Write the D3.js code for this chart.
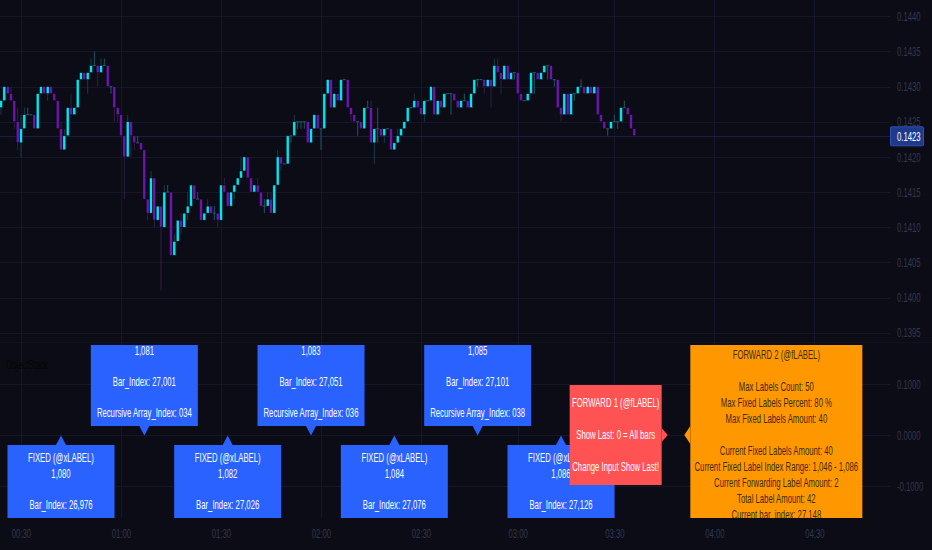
<!DOCTYPE html>
<html><head><meta charset="utf-8">
<script src="https://cdn.jsdelivr.net/npm/d3@7/dist/d3.min.js"></script>
<style>
html,body{margin:0;padding:0;background:#0c0c17;}
svg{display:block;}
text{font-family:"Liberation Sans",Arial,sans-serif;}
</style></head><body>
<svg id="chart" width="932" height="550"></svg>
<script>
// ---------------- DATA ----------------
const firstBar = 26958; // bar_index of first visible candle
const open = [
0.1427,0.1428,0.1430,0.1429,0.1428,0.1425,0.1422,0.1424,0.1426,0.1426,0.1426,0.1424,0.1429,0.1430,0.1429,0.1430,0.1429,0.1428,0.1424,0.1421,
0.1423,0.1427,0.1426,0.1427,0.1431,0.1432,0.1431,0.1432,0.1433,0.1433,0.1432,0.1433,0.1433,0.1430,0.1430,0.1427,0.1426,0.1423,0.1420,0.1425,
0.1423,0.1422,0.1422,0.1421,0.1414,0.1412,0.1417,0.1411,0.1413,0.1410,0.1415,0.1415,0.1406,0.1408,0.1411,0.1410,0.1412,0.1413,0.1416,0.1414,
0.1414,0.1411,0.1412,0.1413,0.1412,0.1412,0.1411,0.1416,0.1415,0.1413,0.1415,0.1416,0.1417,0.1418,0.1420,0.1417,0.1415,0.1416,0.1415,0.1413,
0.1413,0.1414,0.1412,0.1416,0.1420,0.1419,0.1419,0.1423,0.1423,0.1425,0.1425,0.1425,0.1425,0.1422,0.1424,0.1426,0.1424,0.1424,0.1429,0.1431,
0.1427,0.1429,0.1428,0.1431,0.1431,0.1427,0.1426,0.1425,0.1425,0.1424,0.1427,0.1427,0.1422,0.1424,0.1424,0.1423,0.1424,0.1424,0.1421,0.1422,
0.1423,0.1424,0.1425,0.1427,0.1427,0.1428,0.1427,0.1426,0.1428,0.1428,0.1430,0.1426,0.1428,0.1427,0.1429,0.1429,0.1429,0.1428,0.1427,0.1428,
0.1428,0.1427,0.1429,0.1431,0.1431,0.1431,0.1430,0.1431,0.1430,0.1433,0.1432,0.1431,0.1433,0.1431,0.1432,0.1432,0.1429,0.1428,0.1428,0.1429,
0.1432,0.1432,0.1431,0.1432,0.1433,0.1433,0.1431,0.1431,0.1427,0.1426,0.1429,0.1426,0.1429,0.1429,0.1430,0.1430,0.1429,0.1430,0.1429,0.1430,
0.1426,0.1425,0.1424,0.1424,0.1425,0.1425,0.1425,0.1427,0.1427,0.1426,0.1424];
const close = [
0.1428,0.1430,0.1429,0.1428,0.1425,0.1422,0.1424,0.1426,0.1426,0.1426,0.1424,0.1429,0.1430,0.1429,0.1430,0.1429,0.1428,0.1424,0.1421,0.1423,
0.1427,0.1426,0.1427,0.1431,0.1432,0.1431,0.1432,0.1433,0.1433,0.1432,0.1433,0.1433,0.1430,0.1430,0.1427,0.1426,0.1423,0.1420,0.1425,0.1423,
0.1422,0.1422,0.1421,0.1414,0.1412,0.1417,0.1411,0.1413,0.1410,0.1415,0.1415,0.1406,0.1408,0.1411,0.1410,0.1412,0.1413,0.1416,0.1414,0.1414,
0.1411,0.1412,0.1413,0.1412,0.1412,0.1411,0.1416,0.1415,0.1413,0.1415,0.1416,0.1417,0.1418,0.1420,0.1417,0.1415,0.1416,0.1415,0.1413,0.1413,
0.1414,0.1412,0.1416,0.1420,0.1419,0.1419,0.1423,0.1423,0.1425,0.1425,0.1425,0.1425,0.1422,0.1424,0.1426,0.1424,0.1424,0.1429,0.1431,0.1427,
0.1429,0.1428,0.1431,0.1431,0.1427,0.1426,0.1425,0.1425,0.1424,0.1427,0.1427,0.1422,0.1424,0.1424,0.1423,0.1424,0.1424,0.1421,0.1422,0.1423,
0.1424,0.1425,0.1427,0.1427,0.1428,0.1427,0.1426,0.1428,0.1428,0.1430,0.1426,0.1428,0.1427,0.1429,0.1429,0.1429,0.1428,0.1427,0.1428,0.1428,
0.1427,0.1429,0.1431,0.1431,0.1431,0.1430,0.1431,0.1430,0.1433,0.1432,0.1431,0.1433,0.1431,0.1432,0.1432,0.1429,0.1428,0.1428,0.1429,0.1432,
0.1432,0.1431,0.1432,0.1433,0.1433,0.1431,0.1431,0.1427,0.1426,0.1429,0.1426,0.1429,0.1429,0.1430,0.1430,0.1429,0.1430,0.1429,0.1430,0.1426,
0.1425,0.1424,0.1424,0.1425,0.1425,0.1425,0.1427,0.1427,0.1426,0.1424,0.1423];
const high = [
0.1428,0.1430,0.1430,0.1430,0.1428,0.1427,0.1426,0.1427,0.1427,0.1426,0.1426,0.1429,0.1430,0.1430,0.1430,0.1430,0.1429,0.1428,0.1425,0.1424,
0.1427,0.1429,0.1427,0.1431,0.1432,0.1432,0.1432,0.1434,0.1435,0.1433,0.1434,0.1434,0.1433,0.1430,0.1430,0.1427,0.1426,0.1423,0.1426,0.1425,
0.1423,0.1423,0.1422,0.1421,0.1414,0.1418,0.1417,0.1413,0.1413,0.1416,0.1416,0.1415,0.1409,0.1411,0.1412,0.1412,0.1415,0.1416,0.1416,0.1415,
0.1414,0.1412,0.1414,0.1413,0.1413,0.1412,0.1416,0.1417,0.1415,0.1415,0.1416,0.1417,0.1420,0.1420,0.1420,0.1417,0.1416,0.1417,0.1415,0.1414,
0.1415,0.1415,0.1416,0.1421,0.1420,0.1419,0.1423,0.1423,0.1426,0.1425,0.1425,0.1425,0.1425,0.1424,0.1426,0.1426,0.1424,0.1429,0.1431,0.1431,
0.1429,0.1429,0.1431,0.1431,0.1431,0.1427,0.1426,0.1425,0.1425,0.1427,0.1428,0.1428,0.1424,0.1427,0.1424,0.1424,0.1424,0.1424,0.1422,0.1424,
0.1424,0.1425,0.1427,0.1427,0.1429,0.1428,0.1427,0.1428,0.1428,0.1430,0.1430,0.1428,0.1428,0.1429,0.1429,0.1429,0.1429,0.1428,0.1428,0.1429,
0.1428,0.1429,0.1431,0.1431,0.1431,0.1431,0.1431,0.1431,0.1434,0.1434,0.1432,0.1433,0.1433,0.1432,0.1432,0.1432,0.1429,0.1428,0.1429,0.1432,
0.1432,0.1432,0.1432,0.1433,0.1433,0.1433,0.1431,0.1431,0.1427,0.1429,0.1429,0.1429,0.1429,0.1430,0.1431,0.1430,0.1430,0.1430,0.1430,0.1430,
0.1426,0.1425,0.1424,0.1425,0.1426,0.1425,0.1427,0.1428,0.1427,0.1426,0.1424];
const low = [
0.1426,0.1428,0.1429,0.1428,0.1424,0.1421,0.1420,0.1424,0.1426,0.1426,0.1424,0.1424,0.1429,0.1429,0.1428,0.1429,0.1428,0.1424,0.1421,0.1421,
0.1423,0.1426,0.1426,0.1427,0.1431,0.1431,0.1429,0.1432,0.1433,0.1430,0.1432,0.1433,0.1430,0.1429,0.1425,0.1425,0.1423,0.1414,0.1420,0.1420,
0.1421,0.1422,0.1421,0.1414,0.1411,0.1412,0.1410,0.1411,0.1401,0.1410,0.1415,0.1406,0.1406,0.1408,0.1409,0.1410,0.1411,0.1413,0.1414,0.1414,
0.1411,0.1411,0.1412,0.1412,0.1411,0.1410,0.1411,0.1415,0.1413,0.1413,0.1414,0.1416,0.1417,0.1418,0.1417,0.1415,0.1415,0.1415,0.1413,0.1412,
0.1413,0.1412,0.1412,0.1416,0.1418,0.1419,0.1419,0.1422,0.1423,0.1424,0.1424,0.1424,0.1422,0.1422,0.1424,0.1424,0.1421,0.1424,0.1429,0.1427,
0.1427,0.1428,0.1428,0.1431,0.1427,0.1425,0.1425,0.1423,0.1424,0.1424,0.1427,0.1422,0.1419,0.1422,0.1423,0.1422,0.1424,0.1421,0.1421,0.1422,
0.1423,0.1424,0.1425,0.1427,0.1427,0.1427,0.1426,0.1425,0.1428,0.1428,0.1426,0.1426,0.1427,0.1427,0.1429,0.1426,0.1428,0.1427,0.1427,0.1428,
0.1427,0.1427,0.1429,0.1430,0.1431,0.1429,0.1430,0.1427,0.1430,0.1432,0.1429,0.1431,0.1431,0.1431,0.1431,0.1429,0.1428,0.1428,0.1428,0.1429,
0.1429,0.1431,0.1431,0.1432,0.1431,0.1431,0.1430,0.1427,0.1425,0.1426,0.1426,0.1426,0.1428,0.1429,0.1430,0.1429,0.1429,0.1429,0.1429,0.1426,
0.1425,0.1424,0.1423,0.1424,0.1425,0.1424,0.1425,0.1427,0.1426,0.1424,0.1423];

const lastPrice = 0.1423;
const priceTicks = [0.1440,0.1435,0.1430,0.1425,0.1420,0.1415,0.1410,0.1405,0.1400,0.1395];
const priceTickLabels = ["0.1440","0.1435","0.1430","0.1425","0.1420","0.1415","0.1410","0.1405","0.1400","0.1395"];
const lowerTicks = [0.1, 0, -0.1];
const lowerTickLabels = ["0.1000","0.0000","-0.1000"];
const timeTickBars = [26964,26994,27024,27054,27084,27113,27142,27172,27202];
const timeTickLabels = ["00:30","01:00","01:30","02:00","02:30","03:00","03:30","04:00","04:30"];

const fixedIds = ["1,080","1,081","1,082","1,083","1,084","1,085","1,086"];
const fixedBars = [26976,27001,27026,27051,27076,27101,27126];
const fixedBarText = ["26,976","27,001","27,026","27,051","27,076","27,101","27,126"];
const fixedArrayIdx = ["033","034","035","036","037","038","039"];
const fixedSide = ["up","down","up","down","up","down","up"];
const labelValue = 0;

const fwd1Bar = 27158;
const fwd1Lines = ["FORWARD 1 (@fLABEL)","","Show Last: 0 = All bars","","Change Input Show Last!"];
const fwd2Bar = 27163;
const fwd2Lines = ["FORWARD 2 (@fLABEL)","","Max Labels Count: 50","Max Fixed Labels Percent: 80 %","Max Fixed Labels Amount: 40","",
  "Current Fixed Labels Amount: 40","Current Fixed Label Index Range: 1,046 - 1,086","Current Forwarding Label Amount: 2",
  "Total Label Amount: 42","Current bar_index: 27,148"];
const paneTitle = "ObjectStack";

// ---------------- LAYOUT / STYLE ----------------
const W = 932, H = 550;
const plotRight = 890;
const upperTop = 0, upperBottom = 341;
const lowerTop = 345, lowerBottom = 518;
const C = {
  bg:"#0c0c17", grid:"#16162a", priceLine:"#1d1d44",
  bull:"#00e6f0", bear:"#6c16ae", bullWick:"#173b47", bearWick:"#2f1f44", doji:"#1c5663",
  axisText:"#34374b", blue:"#2962ff", red:"#ff5252", orange:"#ff9800", orangeText:"#3d2c12"
};
const SX_LABEL = 0.645, SX_AXIS = 0.62;

const svg = d3.select("#chart");
svg.append("rect").attr("width",W).attr("height",H).attr("fill",C.bg);

const defs = svg.append("defs");
defs.append("clipPath").attr("id","clipU").append("rect")
  .attr("x",0).attr("y",upperTop).attr("width",plotRight).attr("height",upperBottom-upperTop);
defs.append("clipPath").attr("id","clipL").append("rect")
  .attr("x",0).attr("y",lowerTop).attr("width",plotRight).attr("height",lowerBottom-lowerTop);

const x = d3.scaleLinear().domain([26976, 27126]).range([61, 561]);
const yP = d3.scaleLinear().domain([0.1400, 0.1440]).range([297.5, 16.3]);
const yL = d3.scaleLinear().domain([-0.1, 0.1]).range([486, 384]);

function sText(parent, px, py, str, opt){
  const g = parent.append("g").attr("transform",`translate(${px},${py}) scale(${opt.sx||SX_LABEL},1)`);
  return g.append("text").attr("x",0).attr("y",0)
    .attr("text-anchor",opt.anchor||"middle").attr("dominant-baseline","central")
    .attr("font-size",opt.size||12).attr("fill",opt.fill||"#fff").text(str);
}

// ---------------- GRID ----------------
const grid = svg.append("g");
grid.selectAll("line.v").data(timeTickBars).join("line")
  .attr("x1",d=>Math.round(x(d))+0.5).attr("x2",d=>Math.round(x(d))+0.5)
  .attr("y1",0).attr("y2",lowerBottom).attr("stroke",C.grid).attr("stroke-width",1);
grid.selectAll("line.h").data(priceTicks).join("line")
  .attr("x1",0).attr("x2",plotRight)
  .attr("y1",d=>Math.round(yP(d))+0.5).attr("y2",d=>Math.round(yP(d))+0.5)
  .attr("stroke",C.grid);
grid.selectAll("line.hl").data(lowerTicks).join("line")
  .attr("x1",0).attr("x2",plotRight)
  .attr("y1",d=>Math.round(yL(d))+0.5).attr("y2",d=>Math.round(yL(d))+0.5)
  .attr("stroke",C.grid);
// pane separator
svg.append("line").attr("x1",0).attr("x2",W).attr("y1",upperBottom+1.5).attr("y2",upperBottom+1.5)
  .attr("stroke","#11111f");

// price line
svg.append("line").attr("x1",0).attr("x2",plotRight)
  .attr("y1",Math.round(yP(lastPrice))+0.5).attr("y2",Math.round(yP(lastPrice))+0.5)
  .attr("stroke",C.priceLine);

// ---------------- CANDLES ----------------
const bars = open.map((o,i)=>({bar:firstBar+i,o,c:close[i],h:high[i],l:low[i]}));
const cg = svg.append("g").attr("clip-path","url(#clipU)");
const bw = 3.0;
bars.forEach(d=>{
  const cx = x(d.bar);
  const isDoji = d.o === d.c;
  const up = d.c > d.o;
  const wc = isDoji ? C.doji : (up ? C.bullWick : C.bearWick);
  if (d.h !== d.l) {
    cg.append("line").attr("x1",cx).attr("x2",cx).attr("y1",yP(d.h)).attr("y2",yP(d.l))
      .attr("stroke",wc).attr("stroke-width",1);
  }
  if (isDoji) {
    cg.append("rect").attr("x",cx-bw/2).attr("width",bw).attr("y",yP(d.o)-0.6).attr("height",1.2)
      .attr("fill",C.doji);
  } else {
    const yt = yP(Math.max(d.o,d.c)), yb = yP(Math.min(d.o,d.c));
    cg.append("rect").attr("x",cx-bw/2).attr("width",bw).attr("y",yt).attr("height",yb-yt)
      .attr("fill",up?C.bull:C.bear).attr("stroke","#06060c").attr("stroke-width",0.5);
  }
});

// ---------------- LOWER PANE LABELS ----------------
const lg = svg.append("g").attr("clip-path","url(#clipL)");
const py = yL(labelValue);
function drawLabel(px, lines, side, o){
  const lh = o.lh, n = lines.length, bh = n*lh + 2*o.pad, w = o.w;
  let bx, by, arrow;
  if (side==="up"){
    const tip = py+0.5, base = tip+9.5;
    bx = px-w/2; by = base;
    arrow = [[px-5,base],[px,tip],[px+5,base]];
  } else if (side==="down"){
    const tip = py+0.5, base = tip-9.5;
    bx = px-w/2; by = base-bh;
    arrow = [[px-5,base],[px,tip],[px+5,base]];
  } else if (side==="right"){ // box left of point
    bx = px-6-w; by = py-bh/2;
    arrow = [[px-6,py-7],[px,py],[px-6,py+7]];
  } else { // left: box right of point
    bx = px+6; by = py-bh/2;
    arrow = [[px+6,py-9],[px,py],[px+6,py+9]];
  }
  lg.append("rect").attr("x",bx).attr("y",by).attr("width",w).attr("height",bh).attr("fill",o.fill);
  lg.append("path").attr("d",d3.line()(arrow)+"Z").attr("fill",o.fill);
  lines.forEach((t,k)=>{
    if(!t) return;
    const ly = by+o.pad+lh/2+k*lh;
    // lines lying entirely outside the pane are hidden by the pane clip; skip them
    if (ly < lowerTop - 2 || ly > lowerBottom + 2) return;
    sText(lg, bx+w/2, ly, t, {fill:o.text, size:12});
  });
}
fixedIds.forEach((id,i)=>{
  const lines = ["FIXED (@xLABEL)", id, "", "Bar_Index: "+fixedBarText[i], "", "Recursive Array_Index: "+fixedArrayIdx[i]];
  drawLabel(x(fixedBars[i]), lines, fixedSide[i], {w:107, pad:5, lh:15.7, fill:C.blue, text:"#ffffff"});
});
drawLabel(x(fwd1Bar), fwd1Lines, "right", {w:92, pad:10, lh:16, fill:C.red, text:"#ffffff"});
drawLabel(x(fwd2Bar), fwd2Lines, "left", {w:172, pad:5, lh:16, fill:C.orange, text:C.orangeText});

// pane title
sText(svg, 6, 365, paneTitle, {anchor:"start", size:12.5, sx:SX_AXIS, fill:"#040406"});

// ---------------- AXES ----------------
function styleAxis(g, anchor){
  g.select(".domain").remove();
  g.selectAll(".tick line").remove();
  g.selectAll(".tick text").attr("fill",C.axisText).attr("font-size",12.5)
    .attr("font-family",'"Liberation Sans",Arial,sans-serif')
    .attr("x",0).attr("dy",null).attr("dominant-baseline","central")
    .attr("text-anchor",anchor).attr("transform",`scale(${SX_AXIS},1)`);
}
const ay = svg.append("g").attr("transform","translate(897,0)")
  .call(d3.axisRight(yP).tickValues(priceTicks).tickFormat((d,i)=>priceTickLabels[i]).tickSize(0).tickPadding(0));
styleAxis(ay,"start");
const ayl = svg.append("g").attr("transform","translate(897,0)")
  .call(d3.axisRight(yL).tickValues(lowerTicks).tickFormat((d,i)=>lowerTickLabels[i]).tickSize(0).tickPadding(0));
styleAxis(ayl,"start");
const ax = svg.append("g").attr("transform","translate(0,534)")
  .call(d3.axisBottom(x).tickValues(timeTickBars).tickFormat((d,i)=>timeTickLabels[i]).tickSize(0).tickPadding(0));
styleAxis(ax,"middle");
ax.selectAll(".tick text").attr("y",0);

// last price tag
const lpY = yP(lastPrice);
svg.append("rect").attr("x",890.5).attr("y",lpY-9).attr("width",33).attr("height",19)
  .attr("rx",1).attr("fill","#1f3a8c").attr("stroke","#3050b5").attr("stroke-width",1);
sText(svg, 897, lpY+0.5, d3.format(".4f")(lastPrice), {anchor:"start", size:12.5, sx:SX_AXIS, fill:"#ffffff"});
</script>
</body></html>
